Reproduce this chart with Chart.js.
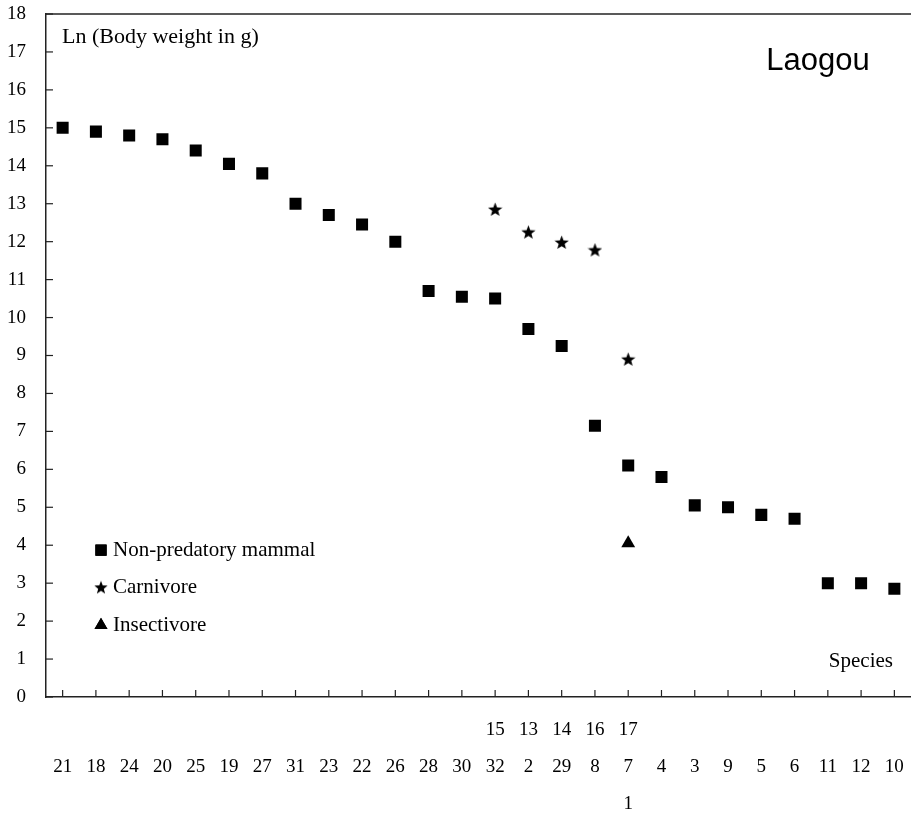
<!DOCTYPE html>
<html>
<head>
<meta charset="utf-8">
<script src="https://cdn.jsdelivr.net/npm/chart.js@4"></script>
<style>
  html, body { margin: 0; padding: 0; background: #fff; }
</style>
</head>
<body>
<canvas id="chart" width="911" height="816"></canvas>
<script>
// species order along the x axis (main row of labels)
const species = ['21','18','24','20','25','19','27','31','23','22','26','28','30','32','2','29','8','7','4','3','9','5','6','11','12','10'];
// extra label rows: carnivore species above, insectivore species below
const carnivoreSpecies = ['','','','','','','','','','','','','','15','13','14','16','17','','','','','','','',''];
const insectivoreSpecies = ['','','','','','','','','','','','','','','','','','1','','','','','','','',''];

const nonPredatory = [15.0, 14.9, 14.8, 14.7, 14.4, 14.05, 13.8, 13.0, 12.7, 12.45, 12.0, 10.7, 10.55, 10.5, 9.7, 9.25, 7.15, 6.1, 5.8, 5.05, 5.0, 4.8, 4.7, 3.0, 3.0, 2.85];
const carnivore = [null, null, null, null, null, null, null, null, null, null, null, null, null, 12.85, 12.25, 11.98, 11.78, 8.9, null, null, null, null, null, null, null, null];
const insectivore = [null, null, null, null, null, null, null, null, null, null, null, null, null, null, null, null, null, 4.05, null, null, null, null, null, null, null, null];

const axisColor = '#222';
const serif = "'Liberation Serif', 'Times New Roman', serif";

// filled five point star for the carnivore marker
function makeStar(size) {
  const c = document.createElement('canvas');
  c.width = size; c.height = size;
  const g = c.getContext('2d');
  const cx = size / 2, cy = size / 2 + 0.5, outer = size / 2, inner = outer * 0.42;
  g.beginPath();
  for (let i = 0; i < 10; i++) {
    const r = i % 2 === 0 ? outer : inner;
    const a = -Math.PI / 2 + i * Math.PI / 5;
    const px = cx + r * Math.cos(a), py = cy + r * Math.sin(a);
    if (i === 0) g.moveTo(px, py); else g.lineTo(px, py);
  }
  g.closePath();
  g.fillStyle = '#000';
  g.fill();
  return c;
}
const starBig = makeStar(15);
const starSmall = makeStar(14);

const labels = species.map((s, i) => [carnivoreSpecies[i], s, insectivoreSpecies[i]]);

const extras = {
  id: 'extras',
  afterDraw(chart) {
    const { ctx, chartArea, scales: { x, y } } = chart;
    ctx.save();
    ctx.strokeStyle = axisColor;
    ctx.lineWidth = 1.5;
    // top frame line
    ctx.beginPath();
    ctx.moveTo(chartArea.left, chartArea.top);
    ctx.lineTo(chartArea.right, chartArea.top);
    ctx.stroke();
    // inward tick marks
    ctx.lineWidth = 1.2;
    x.ticks.forEach((t, i) => {
      const px = x.getPixelForTick(i);
      ctx.beginPath();
      ctx.moveTo(px, chartArea.bottom);
      ctx.lineTo(px, chartArea.bottom - 7);
      ctx.stroke();
    });
    y.ticks.forEach((t, i) => {
      const py = y.getPixelForTick(i);
      ctx.beginPath();
      ctx.moveTo(chartArea.left, py);
      ctx.lineTo(chartArea.left + 7, py);
      ctx.stroke();
    });

    // text annotations
    ctx.fillStyle = '#000';
    ctx.textBaseline = 'middle';
    ctx.font = '22px ' + serif;
    ctx.textAlign = 'left';
    ctx.fillText('Ln (Body weight in g)', chartArea.left + 16, chartArea.top + 23);
    ctx.textAlign = 'right';
    ctx.font = '21px ' + serif;
    ctx.fillText('Species', chartArea.right - 18, y.getPixelForValue(0.93));
    ctx.textAlign = 'center';
    ctx.font = "31px 'Liberation Sans', Arial, sans-serif";
    ctx.fillText('Laogou', chartArea.left + 772, chartArea.top + 47);

    // legend
    ctx.font = '21px ' + serif;
    ctx.textAlign = 'left';
    const rows = [3.87, 2.89, 1.89];
    chart.data.datasets.forEach((ds, i) => {
      const py = y.getPixelForValue(rows[i]);
      const mx = chartArea.left + 55;
      let style = ds.pointStyle;
      let r = 7.5;
      if (i === 0) r = 7.8;
      if (i === 1) style = starSmall;
      Chart.helpers.drawPoint(ctx, { pointStyle: style, radius: r, borderWidth: 0 }, mx, py);
      ctx.fillStyle = '#000';
      ctx.fill();
      ctx.fillText(ds.label, chartArea.left + 67, py);
    });
    ctx.restore();
  }
};

new Chart(document.getElementById('chart'), {
  type: 'line',
  data: {
    labels: labels,
    datasets: [
      {
        label: 'Non-predatory mammal',
        data: nonPredatory,
        showLine: false,
        pointStyle: 'rect',
        pointRadius: 8.5,
        pointBackgroundColor: '#000',
        pointBorderColor: '#000',
        pointBorderWidth: 0
      },
      {
        label: 'Carnivore',
        data: carnivore,
        showLine: false,
        pointStyle: starBig,
        pointRadius: 8,
        pointBackgroundColor: '#000',
        pointBorderColor: '#000',
        pointBorderWidth: 0
      },
      {
        label: 'Insectivore',
        data: insectivore,
        showLine: false,
        pointStyle: 'triangle',
        pointRadius: 8,
        pointBackgroundColor: '#000',
        pointBorderColor: '#000',
        pointBorderWidth: 0
      }
    ]
  },
  options: {
    responsive: false,
    animation: false,
    devicePixelRatio: 1,
    layout: { autoPadding: false, padding: { top: 14, left: 0, right: 0, bottom: 0 } },
    plugins: {
      legend: { display: false },
      tooltip: { enabled: false }
    },
    scales: {
      x: {
        type: 'category',
        offset: true,
        grid: { display: true, drawOnChartArea: false, drawTicks: false, offset: false },
        border: { display: true, color: axisColor, width: 1.5 },
        ticks: {
          color: '#000',
          autoSkip: false,
          maxRotation: 0,
          padding: 14,
          font: { family: serif, size: 19, lineHeight: 1.95 }
        },
        afterFit: s => { s.height = 119; s.paddingLeft = 0; s.paddingRight = 0; }
      },
      y: {
        min: 0,
        max: 18,
        grid: { display: true, drawOnChartArea: false, drawTicks: false },
        border: { display: true, color: axisColor, width: 1.5 },
        ticks: {
          stepSize: 1,
          color: '#000',
          padding: 20,
          font: { family: serif, size: 19 }
        },
        afterFit: s => { s.width = 46; s.paddingTop = 0; s.paddingBottom = 0; }
      }
    }
  },
  plugins: [extras]
});
</script>
</body>
</html>
